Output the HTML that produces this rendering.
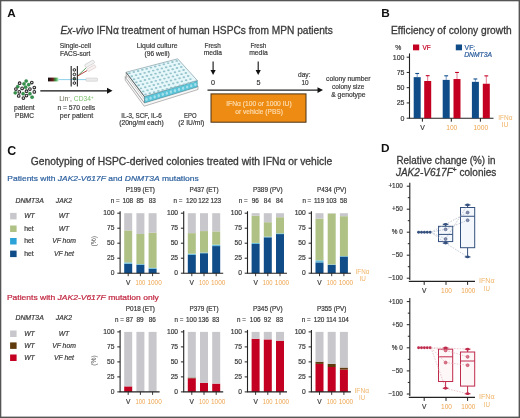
<!DOCTYPE html>
<html><head><meta charset="utf-8"><style>
html,body{margin:0;padding:0;background:#fff;}
svg{display:block;will-change:transform;}
text{font-family:"Liberation Sans", sans-serif;}
</style></head><body>
<svg width="520" height="418" viewBox="0 0 520 418">
<rect x="0" y="0" width="520" height="418" fill="#fff"/>
<text x="7.30" y="16.90" font-size="11.7" fill="#111" font-weight="bold">A</text>
<text x="60.40" y="33.60" font-size="10.8" fill="#3a3a3a" textLength="272.40" lengthAdjust="spacingAndGlyphs" stroke="#3a3a3a" stroke-width="0.3"><tspan font-style="italic">Ex-vivo</tspan> IFN&#945; treatment of human HSPCs from MPN patients</text>
<text x="59.80" y="47.80" font-size="7.2" fill="#3a3a3a" textLength="31.10" lengthAdjust="spacingAndGlyphs" stroke="#3a3a3a" stroke-width="0.2">Single-cell</text>
<text x="60.10" y="55.60" font-size="7.2" fill="#3a3a3a" textLength="30.30" lengthAdjust="spacingAndGlyphs" stroke="#3a3a3a" stroke-width="0.2">FACS-sort</text>
<circle cx="26.2" cy="81" r="1.6" fill="#34964a" stroke="#22703a" stroke-width="0.4"/>
<circle cx="19.6" cy="83.2" r="1.35" fill="#e8e8e8" stroke="#2a2a2a" stroke-width="1.05"/>
<circle cx="24" cy="83.8" r="1.6" fill="#34964a" stroke="#22703a" stroke-width="0.4"/>
<circle cx="28.7" cy="84.7" r="1.6" fill="#34964a" stroke="#22703a" stroke-width="0.4"/>
<circle cx="31.8" cy="82.5" r="1.35" fill="#e8e8e8" stroke="#2a2a2a" stroke-width="1.05"/>
<circle cx="17.8" cy="86.6" r="1.6" fill="#34964a" stroke="#22703a" stroke-width="0.4"/>
<circle cx="22.1" cy="88.4" r="1.35" fill="#e8e8e8" stroke="#2a2a2a" stroke-width="1.05"/>
<circle cx="25.6" cy="87.2" r="1.6" fill="#34964a" stroke="#22703a" stroke-width="0.4"/>
<circle cx="29.9" cy="89.1" r="1.35" fill="#e8e8e8" stroke="#2a2a2a" stroke-width="1.05"/>
<circle cx="34.3" cy="87.5" r="1.35" fill="#e8e8e8" stroke="#2a2a2a" stroke-width="1.05"/>
<circle cx="15.9" cy="89.1" r="1.35" fill="#e8e8e8" stroke="#2a2a2a" stroke-width="1.05"/>
<circle cx="19.3" cy="91.9" r="1.35" fill="#e8e8e8" stroke="#2a2a2a" stroke-width="1.05"/>
<circle cx="26.5" cy="91.2" r="1.35" fill="#e8e8e8" stroke="#2a2a2a" stroke-width="1.05"/>
<circle cx="34.3" cy="91.9" r="1.35" fill="#e8e8e8" stroke="#2a2a2a" stroke-width="1.05"/>
<circle cx="15.3" cy="92.8" r="1.6" fill="#34964a" stroke="#22703a" stroke-width="0.4"/>
<circle cx="23.1" cy="93.7" r="1.6" fill="#34964a" stroke="#22703a" stroke-width="0.4"/>
<circle cx="29.9" cy="93.7" r="1.6" fill="#34964a" stroke="#22703a" stroke-width="0.4"/>
<circle cx="18.7" cy="95.9" r="1.35" fill="#e8e8e8" stroke="#2a2a2a" stroke-width="1.05"/>
<circle cx="26.5" cy="95.6" r="1.35" fill="#e8e8e8" stroke="#2a2a2a" stroke-width="1.05"/>
<circle cx="32.1" cy="97.2" r="1.6" fill="#34964a" stroke="#22703a" stroke-width="0.4"/>
<circle cx="23.4" cy="98.1" r="1.35" fill="#e8e8e8" stroke="#2a2a2a" stroke-width="1.05"/>
<text x="14.10" y="110.40" font-size="7.2" fill="#3a3a3a" textLength="20.60" lengthAdjust="spacingAndGlyphs" stroke="#3a3a3a" stroke-width="0.2">patient</text>
<text x="15.00" y="117.90" font-size="7.2" fill="#3a3a3a" textLength="19.00" lengthAdjust="spacingAndGlyphs" stroke="#3a3a3a" stroke-width="0.2">PBMC</text>
<line x1="40.30" y1="90.80" x2="108.00" y2="90.80" stroke="#111" stroke-width="1.2"/>
<path d="M107 87.8 L112.5 90.8 L107 93.8 Z" fill="#111"/>
<defs><linearGradient id="nz" x1="0" x2="1" y1="0" y2="0"><stop offset="0" stop-color="#111"/><stop offset="0.45" stop-color="#6a1a1a"/><stop offset="0.75" stop-color="#3aa84a"/><stop offset="1" stop-color="#bfe6c0"/></linearGradient></defs>
<rect x="48.00" y="77.60" width="10.50" height="3.80" fill="url(#nz)"/>
<line x1="58.50" y1="79.60" x2="86.00" y2="79.60" stroke="#8fd0ec" stroke-width="1.0"/>
<line x1="71.20" y1="66.00" x2="71.20" y2="86.50" stroke="#333" stroke-width="1.2"/>
<line x1="77.40" y1="66.00" x2="77.40" y2="86.50" stroke="#333" stroke-width="1.2"/>
<circle cx="74.4" cy="69.9" r="1.3" fill="#eee" stroke="#222" stroke-width="1.0"/>
<circle cx="74.4" cy="74.4" r="1.3" fill="#eee" stroke="#222" stroke-width="1.0"/>
<circle cx="74.4" cy="78.7" r="1.3" fill="#4a7a5a" stroke="#222" stroke-width="1.0"/>
<circle cx="74.4" cy="83.1" r="1.3" fill="#eee" stroke="#222" stroke-width="1.0"/>
<line x1="77.60" y1="76.00" x2="86.80" y2="67.20" stroke="#2f8a3a" stroke-width="0.8"/>
<line x1="77.60" y1="76.00" x2="87.00" y2="70.60" stroke="#a01818" stroke-width="0.8"/>
<g transform="translate(89.6,63.8) rotate(-30)"><rect x="-5" y="-1.6" width="10" height="3.2" rx="0.6" fill="#f2f2f2" stroke="#c8c8c8" stroke-width="0.6"/></g>
<g transform="translate(91.4,68.2) rotate(-30)"><rect x="-4.5" y="-1.5" width="9" height="3" rx="0.6" fill="#f6f0f0" stroke="#dcc8c8" stroke-width="0.6"/></g>
<rect x="86" y="78.1" width="11.5" height="3.1" rx="0.6" fill="#ececec" stroke="#c8c8c8" stroke-width="0.6"/>
<text x="59.2" y="101.4" font-size="7.2" fill="#66664f" textLength="12.6" lengthAdjust="spacingAndGlyphs">Lin<tspan font-size="4.5" dy="-2.6">-</tspan><tspan dy="2.6">,</tspan></text>
<text x="73.8" y="101.4" font-size="7.2" fill="#78c068" textLength="19.6" lengthAdjust="spacingAndGlyphs">CD34<tspan font-size="4.5" dy="-2.6">+</tspan></text>
<text x="57.50" y="110.20" font-size="7.2" fill="#3a3a3a" textLength="37.70" lengthAdjust="spacingAndGlyphs" stroke="#3a3a3a" stroke-width="0.2">n = 570 cells</text>
<text x="59.80" y="117.80" font-size="7.2" fill="#3a3a3a" textLength="33.40" lengthAdjust="spacingAndGlyphs" stroke="#3a3a3a" stroke-width="0.2">per patient</text>
<text x="136.80" y="47.80" font-size="7.2" fill="#3a3a3a" textLength="40.70" lengthAdjust="spacingAndGlyphs" stroke="#3a3a3a" stroke-width="0.2">Liquid culture</text>
<text x="144.60" y="55.70" font-size="7.2" fill="#3a3a3a" textLength="25.10" lengthAdjust="spacingAndGlyphs" stroke="#3a3a3a" stroke-width="0.2">(96 well)</text>
<path d="M125.2 76.5 L144.2 102.5 L198 86 L198 89.5 L144.2 106.2 L125.2 80.2 Z" fill="#f6f6f6" stroke="#8a8a8a" stroke-width="0.6"/>
<path d="M126.2 72.2 L144.5 96.5 L144.5 103 L126.2 78.4 Z" fill="#fbfbfb" stroke="#7a7a7a" stroke-width="0.6"/>
<line x1="126.20" y1="75.00" x2="144.50" y2="99.60" stroke="#9a9a9a" stroke-width="0.5"/>
<path d="M144.5 96.5 L197.3 80.5 L197.3 87 L144.5 103 Z" fill="#5ac4d8" stroke="#4a7f8a" stroke-width="0.5"/>
<path d="M126.2 72.2 L177.7 58.8 L197.3 80.5 L144.5 96.5 Z" fill="#e6f7fa" stroke="#6f8f98" stroke-width="0.6"/>
<line x1="126.20" y1="72.60" x2="144.50" y2="96.90" stroke="#555" stroke-width="0.8"/>
<ellipse cx="129.49" cy="73.16" rx="1.3" ry="0.95" fill="#95c3cc"/><ellipse cx="131.78" cy="76.20" rx="1.3" ry="0.95" fill="#95c3cc"/><ellipse cx="134.06" cy="79.24" rx="1.3" ry="0.95" fill="#95c3cc"/><ellipse cx="136.35" cy="82.27" rx="1.3" ry="0.95" fill="#95c3cc"/><ellipse cx="138.64" cy="85.31" rx="1.3" ry="0.95" fill="#95c3cc"/><ellipse cx="140.93" cy="88.35" rx="1.3" ry="0.95" fill="#95c3cc"/><ellipse cx="143.21" cy="91.39" rx="1.3" ry="0.95" fill="#95c3cc"/><ellipse cx="145.50" cy="94.42" rx="1.3" ry="0.95" fill="#95c3cc"/><ellipse cx="133.78" cy="72.04" rx="1.3" ry="0.95" fill="#95c3cc"/><ellipse cx="136.07" cy="75.08" rx="1.3" ry="0.95" fill="#95c3cc"/><ellipse cx="138.36" cy="78.12" rx="1.3" ry="0.95" fill="#95c3cc"/><ellipse cx="140.64" cy="81.16" rx="1.3" ry="0.95" fill="#95c3cc"/><ellipse cx="142.93" cy="84.19" rx="1.3" ry="0.95" fill="#95c3cc"/><ellipse cx="145.22" cy="87.23" rx="1.3" ry="0.95" fill="#95c3cc"/><ellipse cx="147.51" cy="90.27" rx="1.3" ry="0.95" fill="#95c3cc"/><ellipse cx="149.79" cy="93.31" rx="1.3" ry="0.95" fill="#95c3cc"/><ellipse cx="138.07" cy="70.93" rx="1.3" ry="0.95" fill="#95c3cc"/><ellipse cx="140.36" cy="73.96" rx="1.3" ry="0.95" fill="#95c3cc"/><ellipse cx="142.65" cy="77.00" rx="1.3" ry="0.95" fill="#95c3cc"/><ellipse cx="144.94" cy="80.04" rx="1.3" ry="0.95" fill="#95c3cc"/><ellipse cx="147.22" cy="83.08" rx="1.3" ry="0.95" fill="#95c3cc"/><ellipse cx="149.51" cy="86.11" rx="1.3" ry="0.95" fill="#95c3cc"/><ellipse cx="151.80" cy="89.15" rx="1.3" ry="0.95" fill="#95c3cc"/><ellipse cx="154.09" cy="92.19" rx="1.3" ry="0.95" fill="#95c3cc"/><ellipse cx="142.36" cy="69.81" rx="1.3" ry="0.95" fill="#95c3cc"/><ellipse cx="144.65" cy="72.85" rx="1.3" ry="0.95" fill="#95c3cc"/><ellipse cx="146.94" cy="75.89" rx="1.3" ry="0.95" fill="#95c3cc"/><ellipse cx="149.23" cy="78.92" rx="1.3" ry="0.95" fill="#95c3cc"/><ellipse cx="151.51" cy="81.96" rx="1.3" ry="0.95" fill="#95c3cc"/><ellipse cx="153.80" cy="85.00" rx="1.3" ry="0.95" fill="#95c3cc"/><ellipse cx="156.09" cy="88.04" rx="1.3" ry="0.95" fill="#95c3cc"/><ellipse cx="158.38" cy="91.07" rx="1.3" ry="0.95" fill="#95c3cc"/><ellipse cx="146.66" cy="68.69" rx="1.3" ry="0.95" fill="#95c3cc"/><ellipse cx="148.94" cy="71.73" rx="1.3" ry="0.95" fill="#95c3cc"/><ellipse cx="151.23" cy="74.77" rx="1.3" ry="0.95" fill="#95c3cc"/><ellipse cx="153.52" cy="77.81" rx="1.3" ry="0.95" fill="#95c3cc"/><ellipse cx="155.81" cy="80.84" rx="1.3" ry="0.95" fill="#95c3cc"/><ellipse cx="158.09" cy="83.88" rx="1.3" ry="0.95" fill="#95c3cc"/><ellipse cx="160.38" cy="86.92" rx="1.3" ry="0.95" fill="#95c3cc"/><ellipse cx="162.67" cy="89.96" rx="1.3" ry="0.95" fill="#95c3cc"/><ellipse cx="150.95" cy="67.58" rx="1.3" ry="0.95" fill="#95c3cc"/><ellipse cx="153.24" cy="70.61" rx="1.3" ry="0.95" fill="#95c3cc"/><ellipse cx="155.52" cy="73.65" rx="1.3" ry="0.95" fill="#95c3cc"/><ellipse cx="157.81" cy="76.69" rx="1.3" ry="0.95" fill="#95c3cc"/><ellipse cx="160.10" cy="79.73" rx="1.3" ry="0.95" fill="#95c3cc"/><ellipse cx="162.39" cy="82.76" rx="1.3" ry="0.95" fill="#95c3cc"/><ellipse cx="164.67" cy="85.80" rx="1.3" ry="0.95" fill="#95c3cc"/><ellipse cx="166.96" cy="88.84" rx="1.3" ry="0.95" fill="#95c3cc"/><ellipse cx="155.24" cy="66.46" rx="1.3" ry="0.95" fill="#95c3cc"/><ellipse cx="157.53" cy="69.50" rx="1.3" ry="0.95" fill="#95c3cc"/><ellipse cx="159.81" cy="72.54" rx="1.3" ry="0.95" fill="#95c3cc"/><ellipse cx="162.10" cy="75.57" rx="1.3" ry="0.95" fill="#95c3cc"/><ellipse cx="164.39" cy="78.61" rx="1.3" ry="0.95" fill="#95c3cc"/><ellipse cx="166.68" cy="81.65" rx="1.3" ry="0.95" fill="#95c3cc"/><ellipse cx="168.96" cy="84.69" rx="1.3" ry="0.95" fill="#95c3cc"/><ellipse cx="171.25" cy="87.72" rx="1.3" ry="0.95" fill="#95c3cc"/><ellipse cx="159.53" cy="65.34" rx="1.3" ry="0.95" fill="#95c3cc"/><ellipse cx="161.82" cy="68.38" rx="1.3" ry="0.95" fill="#95c3cc"/><ellipse cx="164.11" cy="71.42" rx="1.3" ry="0.95" fill="#95c3cc"/><ellipse cx="166.39" cy="74.46" rx="1.3" ry="0.95" fill="#95c3cc"/><ellipse cx="168.68" cy="77.49" rx="1.3" ry="0.95" fill="#95c3cc"/><ellipse cx="170.97" cy="80.53" rx="1.3" ry="0.95" fill="#95c3cc"/><ellipse cx="173.26" cy="83.57" rx="1.3" ry="0.95" fill="#95c3cc"/><ellipse cx="175.54" cy="86.61" rx="1.3" ry="0.95" fill="#95c3cc"/><ellipse cx="163.82" cy="64.23" rx="1.3" ry="0.95" fill="#95c3cc"/><ellipse cx="166.11" cy="67.26" rx="1.3" ry="0.95" fill="#95c3cc"/><ellipse cx="168.40" cy="70.30" rx="1.3" ry="0.95" fill="#95c3cc"/><ellipse cx="170.69" cy="73.34" rx="1.3" ry="0.95" fill="#95c3cc"/><ellipse cx="172.97" cy="76.38" rx="1.3" ry="0.95" fill="#95c3cc"/><ellipse cx="175.26" cy="79.41" rx="1.3" ry="0.95" fill="#95c3cc"/><ellipse cx="177.55" cy="82.45" rx="1.3" ry="0.95" fill="#95c3cc"/><ellipse cx="179.84" cy="85.49" rx="1.3" ry="0.95" fill="#95c3cc"/><ellipse cx="168.11" cy="63.11" rx="1.3" ry="0.95" fill="#95c3cc"/><ellipse cx="170.40" cy="66.15" rx="1.3" ry="0.95" fill="#95c3cc"/><ellipse cx="172.69" cy="69.19" rx="1.3" ry="0.95" fill="#95c3cc"/><ellipse cx="174.98" cy="72.22" rx="1.3" ry="0.95" fill="#95c3cc"/><ellipse cx="177.26" cy="75.26" rx="1.3" ry="0.95" fill="#95c3cc"/><ellipse cx="179.55" cy="78.30" rx="1.3" ry="0.95" fill="#95c3cc"/><ellipse cx="181.84" cy="81.34" rx="1.3" ry="0.95" fill="#95c3cc"/><ellipse cx="184.13" cy="84.37" rx="1.3" ry="0.95" fill="#95c3cc"/><ellipse cx="172.41" cy="61.99" rx="1.3" ry="0.95" fill="#95c3cc"/><ellipse cx="174.69" cy="65.03" rx="1.3" ry="0.95" fill="#95c3cc"/><ellipse cx="176.98" cy="68.07" rx="1.3" ry="0.95" fill="#95c3cc"/><ellipse cx="179.27" cy="71.11" rx="1.3" ry="0.95" fill="#95c3cc"/><ellipse cx="181.56" cy="74.14" rx="1.3" ry="0.95" fill="#95c3cc"/><ellipse cx="183.84" cy="77.18" rx="1.3" ry="0.95" fill="#95c3cc"/><ellipse cx="186.13" cy="80.22" rx="1.3" ry="0.95" fill="#95c3cc"/><ellipse cx="188.42" cy="83.26" rx="1.3" ry="0.95" fill="#95c3cc"/><ellipse cx="176.70" cy="60.88" rx="1.3" ry="0.95" fill="#95c3cc"/><ellipse cx="178.99" cy="63.91" rx="1.3" ry="0.95" fill="#95c3cc"/><ellipse cx="181.27" cy="66.95" rx="1.3" ry="0.95" fill="#95c3cc"/><ellipse cx="183.56" cy="69.99" rx="1.3" ry="0.95" fill="#95c3cc"/><ellipse cx="185.85" cy="73.03" rx="1.3" ry="0.95" fill="#95c3cc"/><ellipse cx="188.14" cy="76.06" rx="1.3" ry="0.95" fill="#95c3cc"/><ellipse cx="190.42" cy="79.10" rx="1.3" ry="0.95" fill="#95c3cc"/><ellipse cx="192.71" cy="82.14" rx="1.3" ry="0.95" fill="#95c3cc"/>
<ellipse cx="146.53" cy="99.28" rx="1.2" ry="1.6" fill="#a4e0ec"/><ellipse cx="150.59" cy="98.05" rx="1.2" ry="1.6" fill="#a4e0ec"/><ellipse cx="154.65" cy="96.82" rx="1.2" ry="1.6" fill="#a4e0ec"/><ellipse cx="158.72" cy="95.59" rx="1.2" ry="1.6" fill="#a4e0ec"/><ellipse cx="162.78" cy="94.36" rx="1.2" ry="1.6" fill="#a4e0ec"/><ellipse cx="166.84" cy="93.13" rx="1.2" ry="1.6" fill="#a4e0ec"/><ellipse cx="170.90" cy="91.90" rx="1.2" ry="1.6" fill="#a4e0ec"/><ellipse cx="174.96" cy="90.67" rx="1.2" ry="1.6" fill="#a4e0ec"/><ellipse cx="179.02" cy="89.44" rx="1.2" ry="1.6" fill="#a4e0ec"/><ellipse cx="183.08" cy="88.21" rx="1.2" ry="1.6" fill="#a4e0ec"/><ellipse cx="187.15" cy="86.98" rx="1.2" ry="1.6" fill="#a4e0ec"/><ellipse cx="191.21" cy="85.75" rx="1.2" ry="1.6" fill="#a4e0ec"/><ellipse cx="195.27" cy="84.52" rx="1.2" ry="1.6" fill="#a4e0ec"/>
<text x="121.20" y="117.70" font-size="7.2" fill="#3a3a3a" textLength="40.70" lengthAdjust="spacingAndGlyphs" stroke="#3a3a3a" stroke-width="0.2">IL-3, SCF, IL-6</text>
<text x="119.20" y="125.00" font-size="7.2" fill="#3a3a3a" textLength="44.60" lengthAdjust="spacingAndGlyphs" stroke="#3a3a3a" stroke-width="0.2">(20ng/ml each)</text>
<text x="184.00" y="117.70" font-size="7.2" fill="#3a3a3a" textLength="12.50" lengthAdjust="spacingAndGlyphs" stroke="#3a3a3a" stroke-width="0.2">EPO</text>
<text x="178.30" y="125.00" font-size="7.2" fill="#3a3a3a" textLength="25.90" lengthAdjust="spacingAndGlyphs" stroke="#3a3a3a" stroke-width="0.2">(2 IU/ml)</text>
<text x="204.60" y="47.70" font-size="7.2" fill="#3a3a3a" textLength="16.20" lengthAdjust="spacingAndGlyphs" stroke="#3a3a3a" stroke-width="0.2">Fresh</text>
<text x="203.80" y="55.40" font-size="7.2" fill="#3a3a3a" textLength="18.20" lengthAdjust="spacingAndGlyphs" stroke="#3a3a3a" stroke-width="0.2">media</text>
<text x="250.50" y="47.70" font-size="7.2" fill="#3a3a3a" textLength="15.70" lengthAdjust="spacingAndGlyphs" stroke="#3a3a3a" stroke-width="0.2">Fresh</text>
<text x="249.20" y="55.40" font-size="7.2" fill="#3a3a3a" textLength="18.50" lengthAdjust="spacingAndGlyphs" stroke="#3a3a3a" stroke-width="0.2">media</text>
<line x1="213.10" y1="61.50" x2="213.10" y2="71.50" stroke="#111" stroke-width="1.1"/>
<path d="M210.5 70 L213.1 75 L215.7 70 Z" fill="#111"/>
<line x1="258.20" y1="61.50" x2="258.20" y2="71.50" stroke="#111" stroke-width="1.1"/>
<path d="M255.6 70 L258.2 75 L260.8 70 Z" fill="#111"/>
<text x="213.10" y="84.60" font-size="7.2" fill="#3a3a3a" text-anchor="middle" stroke="#3a3a3a" stroke-width="0.2">0</text>
<text x="258.50" y="84.60" font-size="7.2" fill="#3a3a3a" text-anchor="middle" stroke="#3a3a3a" stroke-width="0.2">5</text>
<text x="298.00" y="76.70" font-size="7.2" fill="#3a3a3a" textLength="12.50" lengthAdjust="spacingAndGlyphs" stroke="#3a3a3a" stroke-width="0.2">day:</text>
<text x="301.40" y="85.00" font-size="7.2" fill="#3a3a3a" textLength="7.10" lengthAdjust="spacingAndGlyphs" stroke="#3a3a3a" stroke-width="0.2">10</text>
<line x1="207.50" y1="90.10" x2="318.50" y2="90.10" stroke="#222" stroke-width="1.3"/>
<path d="M317.5 87.3 L323 90.1 L317.5 92.9 Z" fill="#111"/>
<rect x="211.00" y="93.90" width="95.00" height="28.30" fill="#ee8b12" stroke="#4a3418" stroke-width="1.0"/>
<text x="226.20" y="106.00" font-size="7.2" fill="#fcdcae" textLength="65.50" lengthAdjust="spacingAndGlyphs" stroke="#fcdcae" stroke-width="0.2">IFN&#945; (100 or 1000 IU)</text>
<text x="235.30" y="113.80" font-size="7.2" fill="#fcdcae" textLength="47.60" lengthAdjust="spacingAndGlyphs" stroke="#fcdcae" stroke-width="0.2">or vehicle (PBS)</text>
<text x="326.00" y="81.40" font-size="7.0" fill="#3a3a3a" textLength="44.50" lengthAdjust="spacingAndGlyphs" stroke="#3a3a3a" stroke-width="0.2">colony number</text>
<text x="332.10" y="88.50" font-size="7.0" fill="#3a3a3a" textLength="32.30" lengthAdjust="spacingAndGlyphs" stroke="#3a3a3a" stroke-width="0.2">colony size</text>
<text x="331.20" y="96.50" font-size="7.0" fill="#3a3a3a" textLength="34.40" lengthAdjust="spacingAndGlyphs" stroke="#3a3a3a" stroke-width="0.2">&amp; genotype</text>
<text x="381.20" y="16.70" font-size="11.8" fill="#111" font-weight="bold">B</text>
<text x="391.00" y="33.90" font-size="10.2" fill="#3a3a3a" textLength="120.70" lengthAdjust="spacingAndGlyphs" stroke="#3a3a3a" stroke-width="0.3">Efficiency of colony growth</text>
<text x="395.20" y="49.80" font-size="6.8" fill="#3a3a3a" stroke="#3a3a3a" stroke-width="0.2">%</text>
<rect x="413.00" y="44.50" width="6.20" height="5.80" fill="#c40022"/>
<text x="422.60" y="50.20" font-size="6.8" fill="#c40022" textLength="8.20" lengthAdjust="spacingAndGlyphs" stroke="#c40022" stroke-width="0.2">VF</text>
<rect x="455.80" y="44.50" width="6.20" height="5.80" fill="#0f4c88"/>
<text x="464.60" y="50.20" font-size="6.8" fill="#2a5d9c" stroke="#2a5d9c" stroke-width="0.2">VF;</text>
<text x="464.20" y="56.80" font-size="6.8" fill="#2a5d9c" font-style="italic" textLength="27.80" lengthAdjust="spacingAndGlyphs" stroke="#2a5d9c" stroke-width="0.2">DNMT3A</text>
<line x1="409.50" y1="53.40" x2="409.50" y2="118.20" stroke="#222" stroke-width="1.1"/>
<line x1="406.70" y1="118.20" x2="409.50" y2="118.20" stroke="#222" stroke-width="1.0"/>
<text x="404.50" y="120.70" font-size="7.0" fill="#3a3a3a" text-anchor="end" stroke="#3a3a3a" stroke-width="0.2">0</text>
<line x1="406.70" y1="102.95" x2="409.50" y2="102.95" stroke="#222" stroke-width="1.0"/>
<text x="404.50" y="105.45" font-size="7.0" fill="#3a3a3a" text-anchor="end" stroke="#3a3a3a" stroke-width="0.2">25</text>
<line x1="406.70" y1="87.70" x2="409.50" y2="87.70" stroke="#222" stroke-width="1.0"/>
<text x="404.50" y="90.20" font-size="7.0" fill="#3a3a3a" text-anchor="end" stroke="#3a3a3a" stroke-width="0.2">50</text>
<line x1="406.70" y1="72.45" x2="409.50" y2="72.45" stroke="#222" stroke-width="1.0"/>
<text x="404.50" y="74.95" font-size="7.0" fill="#3a3a3a" text-anchor="end" stroke="#3a3a3a" stroke-width="0.2">75</text>
<line x1="406.70" y1="57.20" x2="409.50" y2="57.20" stroke="#222" stroke-width="1.0"/>
<text x="404.50" y="59.70" font-size="7.0" fill="#3a3a3a" text-anchor="end" stroke="#3a3a3a" stroke-width="0.2">100</text>
<line x1="409.00" y1="118.20" x2="493.50" y2="118.20" stroke="#222" stroke-width="1.1"/>
<line x1="417.20" y1="77.15" x2="417.20" y2="73.49" stroke="#7c9cc8" stroke-width="1.0"/>
<line x1="415.30" y1="73.49" x2="419.10" y2="73.49" stroke="#0f4c88" stroke-width="1.1"/>
<rect x="413.70" y="77.15" width="7.00" height="41.05" fill="#0f4c88"/>
<line x1="427.70" y1="80.99" x2="427.70" y2="75.68" stroke="#e27a90" stroke-width="1.0"/>
<line x1="425.80" y1="75.68" x2="429.60" y2="75.68" stroke="#c40022" stroke-width="1.1"/>
<rect x="424.20" y="80.99" width="7.00" height="37.21" fill="#c40022"/>
<line x1="446.20" y1="79.89" x2="446.20" y2="75.81" stroke="#7c9cc8" stroke-width="1.0"/>
<line x1="444.30" y1="75.81" x2="448.10" y2="75.81" stroke="#0f4c88" stroke-width="1.1"/>
<rect x="442.70" y="79.89" width="7.00" height="38.31" fill="#0f4c88"/>
<line x1="457.00" y1="79.04" x2="457.00" y2="72.45" stroke="#e27a90" stroke-width="1.0"/>
<line x1="455.10" y1="72.45" x2="458.90" y2="72.45" stroke="#c40022" stroke-width="1.1"/>
<rect x="453.50" y="79.04" width="7.00" height="39.16" fill="#c40022"/>
<line x1="475.40" y1="81.84" x2="475.40" y2="78.98" stroke="#7c9cc8" stroke-width="1.0"/>
<line x1="473.50" y1="78.98" x2="477.30" y2="78.98" stroke="#0f4c88" stroke-width="1.1"/>
<rect x="471.90" y="81.84" width="7.00" height="36.36" fill="#0f4c88"/>
<line x1="486.30" y1="83.74" x2="486.30" y2="75.87" stroke="#e27a90" stroke-width="1.0"/>
<line x1="484.40" y1="75.87" x2="488.20" y2="75.87" stroke="#c40022" stroke-width="1.1"/>
<rect x="482.80" y="83.74" width="7.00" height="34.46" fill="#c40022"/>
<line x1="422.40" y1="118.20" x2="422.40" y2="121.70" stroke="#222" stroke-width="1.0"/>
<line x1="451.30" y1="118.20" x2="451.30" y2="121.70" stroke="#222" stroke-width="1.0"/>
<line x1="480.40" y1="118.20" x2="480.40" y2="121.70" stroke="#222" stroke-width="1.0"/>
<text x="422.50" y="129.80" font-size="6.8" fill="#3a3a3a" text-anchor="middle" stroke="#3a3a3a" stroke-width="0.2">V</text>
<text x="446.20" y="129.80" font-size="6.8" fill="#eea44e" textLength="11.10" lengthAdjust="spacingAndGlyphs">100</text>
<text x="473.40" y="129.80" font-size="6.8" fill="#eea44e" textLength="14.80" lengthAdjust="spacingAndGlyphs">1000</text>
<text x="498.20" y="119.50" font-size="6.8" fill="#f1b468" textLength="14.30" lengthAdjust="spacingAndGlyphs">IFN&#945;</text>
<text x="501.60" y="127.40" font-size="6.8" fill="#f1b468" textLength="6.90" lengthAdjust="spacingAndGlyphs">IU</text>
<text x="7.30" y="155.40" font-size="12.4" fill="#111" font-weight="bold">C</text>
<text x="30.80" y="165.00" font-size="10.2" fill="#3a3a3a" textLength="301.40" lengthAdjust="spacingAndGlyphs" stroke="#3a3a3a" stroke-width="0.3">Genotyping of HSPC-derived colonies treated with IFN&#945; or vehicle</text>
<text x="7.3" y="180.5" font-size="7.9" fill="#2f62a0" stroke="#2f62a0" stroke-width="0.2" textLength="191.5" lengthAdjust="spacingAndGlyphs">Patients with <tspan font-style="italic">JAK2-V617F</tspan> and <tspan font-style="italic">DNMT3A</tspan> mutations</text>
<text x="6.9" y="300.1" font-size="7.9" fill="#c0243e" stroke="#c0243e" stroke-width="0.2" textLength="151.9" lengthAdjust="spacingAndGlyphs">Patients with <tspan font-style="italic">JAK2-V617F</tspan> mutation only</text>
<text x="15.40" y="202.70" font-size="6.8" fill="#3a3a3a" font-style="italic" textLength="28.40" lengthAdjust="spacingAndGlyphs" stroke="#3a3a3a" stroke-width="0.2">DNMT3A</text>
<text x="55.80" y="202.70" font-size="6.8" fill="#3a3a3a" font-style="italic" textLength="16.30" lengthAdjust="spacingAndGlyphs" stroke="#3a3a3a" stroke-width="0.2">JAK2</text>
<rect x="10.10" y="212.90" width="6.50" height="6.50" fill="#c8c7cb"/>
<text x="24.20" y="218.30" font-size="6.8" fill="#3a3a3a" font-style="italic" stroke="#3a3a3a" stroke-width="0.2">WT</text>
<text x="64.00" y="218.30" font-size="6.8" fill="#3a3a3a" text-anchor="middle" font-style="italic" stroke="#3a3a3a" stroke-width="0.2">WT</text>
<rect x="10.10" y="225.50" width="6.50" height="6.50" fill="#afc185"/>
<text x="24.20" y="230.90" font-size="6.8" fill="#3a3a3a" stroke="#3a3a3a" stroke-width="0.2">het</text>
<text x="64.00" y="230.90" font-size="6.8" fill="#3a3a3a" text-anchor="middle" font-style="italic" stroke="#3a3a3a" stroke-width="0.2">WT</text>
<rect x="10.10" y="238.00" width="6.50" height="6.50" fill="#2ba2d8"/>
<text x="24.20" y="243.40" font-size="6.8" fill="#3a3a3a" stroke="#3a3a3a" stroke-width="0.2">het</text>
<text x="64.00" y="243.40" font-size="6.8" fill="#3a3a3a" text-anchor="middle" font-style="italic" stroke="#3a3a3a" stroke-width="0.2">VF hom</text>
<rect x="10.10" y="250.60" width="6.50" height="6.50" fill="#0f4c88"/>
<text x="24.20" y="256.00" font-size="6.8" fill="#3a3a3a" stroke="#3a3a3a" stroke-width="0.2">het</text>
<text x="64.00" y="256.00" font-size="6.8" fill="#3a3a3a" text-anchor="middle" font-style="italic" stroke="#3a3a3a" stroke-width="0.2">VF het</text>
<text x="15.40" y="319.60" font-size="6.8" fill="#3a3a3a" font-style="italic" textLength="28.40" lengthAdjust="spacingAndGlyphs" stroke="#3a3a3a" stroke-width="0.2">DNMT3A</text>
<text x="55.80" y="319.60" font-size="6.8" fill="#3a3a3a" font-style="italic" textLength="16.30" lengthAdjust="spacingAndGlyphs" stroke="#3a3a3a" stroke-width="0.2">JAK2</text>
<rect x="10.10" y="330.50" width="6.50" height="6.50" fill="#c8c7cb"/>
<text x="24.20" y="335.90" font-size="6.8" fill="#3a3a3a" font-style="italic" stroke="#3a3a3a" stroke-width="0.2">WT</text>
<text x="64.00" y="335.90" font-size="6.8" fill="#3a3a3a" text-anchor="middle" font-style="italic" stroke="#3a3a3a" stroke-width="0.2">WT</text>
<rect x="10.10" y="342.40" width="6.50" height="6.50" fill="#5e3a0c"/>
<text x="24.20" y="347.80" font-size="6.8" fill="#3a3a3a" font-style="italic" stroke="#3a3a3a" stroke-width="0.2">WT</text>
<text x="64.00" y="347.80" font-size="6.8" fill="#3a3a3a" text-anchor="middle" font-style="italic" stroke="#3a3a3a" stroke-width="0.2">VF hom</text>
<rect x="10.10" y="354.50" width="6.50" height="6.50" fill="#c40022"/>
<text x="24.20" y="359.90" font-size="6.8" fill="#3a3a3a" font-style="italic" stroke="#3a3a3a" stroke-width="0.2">WT</text>
<text x="64.00" y="359.90" font-size="6.8" fill="#3a3a3a" text-anchor="middle" font-style="italic" stroke="#3a3a3a" stroke-width="0.2">VF het</text>
<text x="-5.3" y="0" font-size="7.8" fill="#3a3a3a" textLength="10.6" lengthAdjust="spacingAndGlyphs" transform="translate(96.2,241.3) rotate(-90)">(%)</text>
<text x="-5.3" y="0" font-size="7.8" fill="#3a3a3a" textLength="10.6" lengthAdjust="spacingAndGlyphs" transform="translate(96.2,360.5) rotate(-90)">(%)</text>
<rect x="124.20" y="263.78" width="8.00" height="9.42" fill="#0f4c88"/>
<rect x="124.20" y="262.40" width="8.00" height="1.38" fill="#66bcdc"/>
<rect x="124.20" y="230.42" width="8.00" height="31.98" fill="#afc185"/>
<rect x="124.20" y="213.20" width="8.00" height="17.22" fill="#c8c7cb"/>
<rect x="136.40" y="264.80" width="8.00" height="8.40" fill="#0f4c88"/>
<rect x="136.40" y="264.08" width="8.00" height="0.72" fill="#66bcdc"/>
<rect x="136.40" y="234.02" width="8.00" height="30.06" fill="#afc185"/>
<rect x="136.40" y="213.20" width="8.00" height="20.82" fill="#c8c7cb"/>
<rect x="148.60" y="268.88" width="8.00" height="4.32" fill="#0f4c88"/>
<rect x="148.60" y="267.92" width="8.00" height="0.96" fill="#66bcdc"/>
<rect x="148.60" y="232.70" width="8.00" height="35.22" fill="#afc185"/>
<rect x="148.60" y="213.20" width="8.00" height="19.50" fill="#c8c7cb"/>
<line x1="120.10" y1="211.20" x2="120.10" y2="273.20" stroke="#222" stroke-width="1.1"/>
<line x1="117.30" y1="273.20" x2="120.10" y2="273.20" stroke="#222" stroke-width="1.0"/>
<text x="114.50" y="275.20" font-size="6.7" fill="#3a3a3a" text-anchor="end" stroke="#3a3a3a" stroke-width="0.2">0</text>
<line x1="117.30" y1="258.20" x2="120.10" y2="258.20" stroke="#222" stroke-width="1.0"/>
<text x="114.50" y="260.20" font-size="6.7" fill="#3a3a3a" text-anchor="end" stroke="#3a3a3a" stroke-width="0.2">25</text>
<line x1="117.30" y1="243.20" x2="120.10" y2="243.20" stroke="#222" stroke-width="1.0"/>
<text x="114.50" y="245.20" font-size="6.7" fill="#3a3a3a" text-anchor="end" stroke="#3a3a3a" stroke-width="0.2">50</text>
<line x1="117.30" y1="228.20" x2="120.10" y2="228.20" stroke="#222" stroke-width="1.0"/>
<text x="114.50" y="230.20" font-size="6.7" fill="#3a3a3a" text-anchor="end" stroke="#3a3a3a" stroke-width="0.2">75</text>
<line x1="117.30" y1="213.20" x2="120.10" y2="213.20" stroke="#222" stroke-width="1.0"/>
<text x="114.50" y="215.20" font-size="6.7" fill="#3a3a3a" text-anchor="end" stroke="#3a3a3a" stroke-width="0.2">100</text>
<line x1="119.60" y1="273.20" x2="159.60" y2="273.20" stroke="#222" stroke-width="1.1"/>
<line x1="128.20" y1="273.20" x2="128.20" y2="276.20" stroke="#222" stroke-width="0.9"/>
<line x1="140.40" y1="273.20" x2="140.40" y2="276.20" stroke="#222" stroke-width="0.9"/>
<line x1="152.60" y1="273.20" x2="152.60" y2="276.20" stroke="#222" stroke-width="0.9"/>
<text x="128.20" y="285.00" font-size="6.6" fill="#3a3a3a" text-anchor="middle" stroke="#3a3a3a" stroke-width="0.2">V</text>
<text x="135.40" y="285.00" font-size="6.6" fill="#eea44e" textLength="9.80" lengthAdjust="spacingAndGlyphs">100</text>
<text x="147.40" y="285.00" font-size="6.6" fill="#eea44e" textLength="14.40" lengthAdjust="spacingAndGlyphs">1000</text>
<text x="140.40" y="192.40" font-size="6.4" fill="#3a3a3a" text-anchor="middle" stroke="#3a3a3a" stroke-width="0.2">P199 (ET)</text>
<text x="127.80" y="202.70" font-size="6.4" fill="#3a3a3a" text-anchor="middle" stroke="#3a3a3a" stroke-width="0.2">108</text>
<text x="140.00" y="202.70" font-size="6.4" fill="#3a3a3a" text-anchor="middle" stroke="#3a3a3a" stroke-width="0.2">85</text>
<text x="152.20" y="202.70" font-size="6.4" fill="#3a3a3a" text-anchor="middle" stroke="#3a3a3a" stroke-width="0.2">83</text>
<text x="110.80" y="202.70" font-size="6.4" fill="#3a3a3a" textLength="8.80" lengthAdjust="spacingAndGlyphs" stroke="#3a3a3a" stroke-width="0.2">n =</text>
<rect x="187.80" y="254.90" width="8.00" height="18.30" fill="#0f4c88"/>
<rect x="187.80" y="253.64" width="8.00" height="1.26" fill="#66bcdc"/>
<rect x="187.80" y="233.12" width="8.00" height="20.52" fill="#afc185"/>
<rect x="187.80" y="213.20" width="8.00" height="19.92" fill="#c8c7cb"/>
<rect x="200.00" y="253.22" width="8.00" height="19.98" fill="#0f4c88"/>
<rect x="200.00" y="252.56" width="8.00" height="0.66" fill="#66bcdc"/>
<rect x="200.00" y="231.08" width="8.00" height="21.48" fill="#afc185"/>
<rect x="200.00" y="213.20" width="8.00" height="17.88" fill="#c8c7cb"/>
<rect x="212.20" y="246.08" width="8.00" height="27.12" fill="#0f4c88"/>
<rect x="212.20" y="244.64" width="8.00" height="1.44" fill="#66bcdc"/>
<rect x="212.20" y="231.38" width="8.00" height="13.26" fill="#afc185"/>
<rect x="212.20" y="213.20" width="8.00" height="18.18" fill="#c8c7cb"/>
<line x1="183.70" y1="211.20" x2="183.70" y2="273.20" stroke="#222" stroke-width="1.1"/>
<line x1="180.90" y1="273.20" x2="183.70" y2="273.20" stroke="#222" stroke-width="1.0"/>
<text x="178.10" y="275.20" font-size="6.7" fill="#3a3a3a" text-anchor="end" stroke="#3a3a3a" stroke-width="0.2">0</text>
<line x1="180.90" y1="258.20" x2="183.70" y2="258.20" stroke="#222" stroke-width="1.0"/>
<text x="178.10" y="260.20" font-size="6.7" fill="#3a3a3a" text-anchor="end" stroke="#3a3a3a" stroke-width="0.2">25</text>
<line x1="180.90" y1="243.20" x2="183.70" y2="243.20" stroke="#222" stroke-width="1.0"/>
<text x="178.10" y="245.20" font-size="6.7" fill="#3a3a3a" text-anchor="end" stroke="#3a3a3a" stroke-width="0.2">50</text>
<line x1="180.90" y1="228.20" x2="183.70" y2="228.20" stroke="#222" stroke-width="1.0"/>
<text x="178.10" y="230.20" font-size="6.7" fill="#3a3a3a" text-anchor="end" stroke="#3a3a3a" stroke-width="0.2">75</text>
<line x1="180.90" y1="213.20" x2="183.70" y2="213.20" stroke="#222" stroke-width="1.0"/>
<text x="178.10" y="215.20" font-size="6.7" fill="#3a3a3a" text-anchor="end" stroke="#3a3a3a" stroke-width="0.2">100</text>
<line x1="183.20" y1="273.20" x2="223.20" y2="273.20" stroke="#222" stroke-width="1.1"/>
<line x1="191.80" y1="273.20" x2="191.80" y2="276.20" stroke="#222" stroke-width="0.9"/>
<line x1="204.00" y1="273.20" x2="204.00" y2="276.20" stroke="#222" stroke-width="0.9"/>
<line x1="216.20" y1="273.20" x2="216.20" y2="276.20" stroke="#222" stroke-width="0.9"/>
<text x="191.80" y="285.00" font-size="6.6" fill="#3a3a3a" text-anchor="middle" stroke="#3a3a3a" stroke-width="0.2">V</text>
<text x="199.00" y="285.00" font-size="6.6" fill="#eea44e" textLength="9.80" lengthAdjust="spacingAndGlyphs">100</text>
<text x="211.00" y="285.00" font-size="6.6" fill="#eea44e" textLength="14.40" lengthAdjust="spacingAndGlyphs">1000</text>
<text x="204.00" y="192.40" font-size="6.4" fill="#3a3a3a" text-anchor="middle" stroke="#3a3a3a" stroke-width="0.2">P437 (ET)</text>
<text x="191.40" y="202.70" font-size="6.4" fill="#3a3a3a" text-anchor="middle" stroke="#3a3a3a" stroke-width="0.2">120</text>
<text x="203.60" y="202.70" font-size="6.4" fill="#3a3a3a" text-anchor="middle" stroke="#3a3a3a" stroke-width="0.2">122</text>
<text x="215.80" y="202.70" font-size="6.4" fill="#3a3a3a" text-anchor="middle" stroke="#3a3a3a" stroke-width="0.2">123</text>
<text x="173.60" y="202.70" font-size="6.4" fill="#3a3a3a" textLength="8.80" lengthAdjust="spacingAndGlyphs" stroke="#3a3a3a" stroke-width="0.2">n =</text>
<rect x="251.60" y="243.98" width="8.00" height="29.22" fill="#0f4c88"/>
<rect x="251.60" y="242.90" width="8.00" height="1.08" fill="#66bcdc"/>
<rect x="251.60" y="215.60" width="8.00" height="27.30" fill="#afc185"/>
<rect x="251.60" y="213.20" width="8.00" height="2.40" fill="#c8c7cb"/>
<rect x="263.80" y="237.32" width="8.00" height="35.88" fill="#0f4c88"/>
<rect x="263.80" y="236.60" width="8.00" height="0.72" fill="#66bcdc"/>
<rect x="263.80" y="222.20" width="8.00" height="14.40" fill="#afc185"/>
<rect x="263.80" y="213.20" width="8.00" height="9.00" fill="#c8c7cb"/>
<rect x="276.00" y="234.08" width="8.00" height="39.12" fill="#0f4c88"/>
<rect x="276.00" y="233.36" width="8.00" height="0.72" fill="#66bcdc"/>
<rect x="276.00" y="217.22" width="8.00" height="16.14" fill="#afc185"/>
<rect x="276.00" y="213.20" width="8.00" height="4.02" fill="#c8c7cb"/>
<line x1="247.50" y1="211.20" x2="247.50" y2="273.20" stroke="#222" stroke-width="1.1"/>
<line x1="244.70" y1="273.20" x2="247.50" y2="273.20" stroke="#222" stroke-width="1.0"/>
<text x="241.90" y="275.20" font-size="6.7" fill="#3a3a3a" text-anchor="end" stroke="#3a3a3a" stroke-width="0.2">0</text>
<line x1="244.70" y1="258.20" x2="247.50" y2="258.20" stroke="#222" stroke-width="1.0"/>
<text x="241.90" y="260.20" font-size="6.7" fill="#3a3a3a" text-anchor="end" stroke="#3a3a3a" stroke-width="0.2">25</text>
<line x1="244.70" y1="243.20" x2="247.50" y2="243.20" stroke="#222" stroke-width="1.0"/>
<text x="241.90" y="245.20" font-size="6.7" fill="#3a3a3a" text-anchor="end" stroke="#3a3a3a" stroke-width="0.2">50</text>
<line x1="244.70" y1="228.20" x2="247.50" y2="228.20" stroke="#222" stroke-width="1.0"/>
<text x="241.90" y="230.20" font-size="6.7" fill="#3a3a3a" text-anchor="end" stroke="#3a3a3a" stroke-width="0.2">75</text>
<line x1="244.70" y1="213.20" x2="247.50" y2="213.20" stroke="#222" stroke-width="1.0"/>
<text x="241.90" y="215.20" font-size="6.7" fill="#3a3a3a" text-anchor="end" stroke="#3a3a3a" stroke-width="0.2">100</text>
<line x1="247.00" y1="273.20" x2="287.00" y2="273.20" stroke="#222" stroke-width="1.1"/>
<line x1="255.60" y1="273.20" x2="255.60" y2="276.20" stroke="#222" stroke-width="0.9"/>
<line x1="267.80" y1="273.20" x2="267.80" y2="276.20" stroke="#222" stroke-width="0.9"/>
<line x1="280.00" y1="273.20" x2="280.00" y2="276.20" stroke="#222" stroke-width="0.9"/>
<text x="255.60" y="285.00" font-size="6.6" fill="#3a3a3a" text-anchor="middle" stroke="#3a3a3a" stroke-width="0.2">V</text>
<text x="262.80" y="285.00" font-size="6.6" fill="#eea44e" textLength="9.80" lengthAdjust="spacingAndGlyphs">100</text>
<text x="274.80" y="285.00" font-size="6.6" fill="#eea44e" textLength="14.40" lengthAdjust="spacingAndGlyphs">1000</text>
<text x="267.80" y="192.40" font-size="6.4" fill="#3a3a3a" text-anchor="middle" stroke="#3a3a3a" stroke-width="0.2">P389 (PV)</text>
<text x="255.20" y="202.70" font-size="6.4" fill="#3a3a3a" text-anchor="middle" stroke="#3a3a3a" stroke-width="0.2">96</text>
<text x="267.40" y="202.70" font-size="6.4" fill="#3a3a3a" text-anchor="middle" stroke="#3a3a3a" stroke-width="0.2">84</text>
<text x="279.60" y="202.70" font-size="6.4" fill="#3a3a3a" text-anchor="middle" stroke="#3a3a3a" stroke-width="0.2">84</text>
<text x="238.80" y="202.70" font-size="6.4" fill="#3a3a3a" textLength="8.80" lengthAdjust="spacingAndGlyphs" stroke="#3a3a3a" stroke-width="0.2">n =</text>
<rect x="315.50" y="262.40" width="8.00" height="10.80" fill="#0f4c88"/>
<rect x="315.50" y="260.30" width="8.00" height="2.10" fill="#66bcdc"/>
<rect x="315.50" y="218.60" width="8.00" height="41.70" fill="#afc185"/>
<rect x="315.50" y="213.20" width="8.00" height="5.40" fill="#c8c7cb"/>
<rect x="327.70" y="264.92" width="8.00" height="8.28" fill="#0f4c88"/>
<rect x="327.70" y="264.44" width="8.00" height="0.48" fill="#66bcdc"/>
<rect x="327.70" y="213.50" width="8.00" height="50.94" fill="#afc185"/>
<rect x="327.70" y="213.20" width="8.00" height="0.30" fill="#c8c7cb"/>
<rect x="339.90" y="256.52" width="8.00" height="16.68" fill="#0f4c88"/>
<rect x="339.90" y="256.04" width="8.00" height="0.48" fill="#66bcdc"/>
<rect x="339.90" y="216.20" width="8.00" height="39.84" fill="#afc185"/>
<rect x="339.90" y="213.20" width="8.00" height="3.00" fill="#c8c7cb"/>
<line x1="311.40" y1="211.20" x2="311.40" y2="273.20" stroke="#222" stroke-width="1.1"/>
<line x1="308.60" y1="273.20" x2="311.40" y2="273.20" stroke="#222" stroke-width="1.0"/>
<text x="305.80" y="275.20" font-size="6.7" fill="#3a3a3a" text-anchor="end" stroke="#3a3a3a" stroke-width="0.2">0</text>
<line x1="308.60" y1="258.20" x2="311.40" y2="258.20" stroke="#222" stroke-width="1.0"/>
<text x="305.80" y="260.20" font-size="6.7" fill="#3a3a3a" text-anchor="end" stroke="#3a3a3a" stroke-width="0.2">25</text>
<line x1="308.60" y1="243.20" x2="311.40" y2="243.20" stroke="#222" stroke-width="1.0"/>
<text x="305.80" y="245.20" font-size="6.7" fill="#3a3a3a" text-anchor="end" stroke="#3a3a3a" stroke-width="0.2">50</text>
<line x1="308.60" y1="228.20" x2="311.40" y2="228.20" stroke="#222" stroke-width="1.0"/>
<text x="305.80" y="230.20" font-size="6.7" fill="#3a3a3a" text-anchor="end" stroke="#3a3a3a" stroke-width="0.2">75</text>
<line x1="308.60" y1="213.20" x2="311.40" y2="213.20" stroke="#222" stroke-width="1.0"/>
<text x="305.80" y="215.20" font-size="6.7" fill="#3a3a3a" text-anchor="end" stroke="#3a3a3a" stroke-width="0.2">100</text>
<line x1="310.90" y1="273.20" x2="350.90" y2="273.20" stroke="#222" stroke-width="1.1"/>
<line x1="319.50" y1="273.20" x2="319.50" y2="276.20" stroke="#222" stroke-width="0.9"/>
<line x1="331.70" y1="273.20" x2="331.70" y2="276.20" stroke="#222" stroke-width="0.9"/>
<line x1="343.90" y1="273.20" x2="343.90" y2="276.20" stroke="#222" stroke-width="0.9"/>
<text x="319.50" y="285.00" font-size="6.6" fill="#3a3a3a" text-anchor="middle" stroke="#3a3a3a" stroke-width="0.2">V</text>
<text x="326.70" y="285.00" font-size="6.6" fill="#eea44e" textLength="9.80" lengthAdjust="spacingAndGlyphs">100</text>
<text x="338.70" y="285.00" font-size="6.6" fill="#eea44e" textLength="14.40" lengthAdjust="spacingAndGlyphs">1000</text>
<text x="331.70" y="192.40" font-size="6.4" fill="#3a3a3a" text-anchor="middle" stroke="#3a3a3a" stroke-width="0.2">P434 (PV)</text>
<text x="319.10" y="202.70" font-size="6.4" fill="#3a3a3a" text-anchor="middle" stroke="#3a3a3a" stroke-width="0.2">119</text>
<text x="331.30" y="202.70" font-size="6.4" fill="#3a3a3a" text-anchor="middle" stroke="#3a3a3a" stroke-width="0.2">103</text>
<text x="343.50" y="202.70" font-size="6.4" fill="#3a3a3a" text-anchor="middle" stroke="#3a3a3a" stroke-width="0.2">58</text>
<text x="302.40" y="202.70" font-size="6.4" fill="#3a3a3a" textLength="8.80" lengthAdjust="spacingAndGlyphs" stroke="#3a3a3a" stroke-width="0.2">n =</text>
<text x="355.60" y="273.80" font-size="6.6" fill="#f1b468" textLength="13.80" lengthAdjust="spacingAndGlyphs">IFN&#945;</text>
<text x="359.60" y="281.40" font-size="6.6" fill="#f1b468" textLength="6.40" lengthAdjust="spacingAndGlyphs">IU</text>
<rect x="124.20" y="386.38" width="8.00" height="5.52" fill="#c40022"/>
<rect x="124.20" y="386.38" width="8.00" height="0.00" fill="#5e3a0c"/>
<rect x="124.20" y="331.90" width="8.00" height="54.48" fill="#c8c7cb"/>
<rect x="136.40" y="391.90" width="8.00" height="0.00" fill="#c40022"/>
<rect x="136.40" y="391.90" width="8.00" height="0.00" fill="#5e3a0c"/>
<rect x="136.40" y="331.90" width="8.00" height="60.00" fill="#c8c7cb"/>
<rect x="148.60" y="391.90" width="8.00" height="0.00" fill="#c40022"/>
<rect x="148.60" y="391.90" width="8.00" height="0.00" fill="#5e3a0c"/>
<rect x="148.60" y="331.90" width="8.00" height="60.00" fill="#c8c7cb"/>
<line x1="120.10" y1="329.90" x2="120.10" y2="391.90" stroke="#222" stroke-width="1.1"/>
<line x1="117.30" y1="391.90" x2="120.10" y2="391.90" stroke="#222" stroke-width="1.0"/>
<text x="114.50" y="393.90" font-size="6.7" fill="#3a3a3a" text-anchor="end" stroke="#3a3a3a" stroke-width="0.2">0</text>
<line x1="117.30" y1="376.90" x2="120.10" y2="376.90" stroke="#222" stroke-width="1.0"/>
<text x="114.50" y="378.90" font-size="6.7" fill="#3a3a3a" text-anchor="end" stroke="#3a3a3a" stroke-width="0.2">25</text>
<line x1="117.30" y1="361.90" x2="120.10" y2="361.90" stroke="#222" stroke-width="1.0"/>
<text x="114.50" y="363.90" font-size="6.7" fill="#3a3a3a" text-anchor="end" stroke="#3a3a3a" stroke-width="0.2">50</text>
<line x1="117.30" y1="346.90" x2="120.10" y2="346.90" stroke="#222" stroke-width="1.0"/>
<text x="114.50" y="348.90" font-size="6.7" fill="#3a3a3a" text-anchor="end" stroke="#3a3a3a" stroke-width="0.2">75</text>
<line x1="117.30" y1="331.90" x2="120.10" y2="331.90" stroke="#222" stroke-width="1.0"/>
<text x="114.50" y="333.90" font-size="6.7" fill="#3a3a3a" text-anchor="end" stroke="#3a3a3a" stroke-width="0.2">100</text>
<line x1="119.60" y1="391.90" x2="159.60" y2="391.90" stroke="#222" stroke-width="1.1"/>
<line x1="128.20" y1="391.90" x2="128.20" y2="394.90" stroke="#222" stroke-width="0.9"/>
<line x1="140.40" y1="391.90" x2="140.40" y2="394.90" stroke="#222" stroke-width="0.9"/>
<line x1="152.60" y1="391.90" x2="152.60" y2="394.90" stroke="#222" stroke-width="0.9"/>
<text x="128.20" y="404.30" font-size="6.6" fill="#3a3a3a" text-anchor="middle" stroke="#3a3a3a" stroke-width="0.2">V</text>
<text x="135.40" y="404.30" font-size="6.6" fill="#eea44e" textLength="9.80" lengthAdjust="spacingAndGlyphs">100</text>
<text x="147.40" y="404.30" font-size="6.6" fill="#eea44e" textLength="14.40" lengthAdjust="spacingAndGlyphs">1000</text>
<text x="140.40" y="311.10" font-size="6.4" fill="#3a3a3a" text-anchor="middle" stroke="#3a3a3a" stroke-width="0.2">P018 (ET)</text>
<text x="129.50" y="322.10" font-size="6.4" fill="#3a3a3a" text-anchor="middle" stroke="#3a3a3a" stroke-width="0.2">87</text>
<text x="140.00" y="322.10" font-size="6.4" fill="#3a3a3a" text-anchor="middle" stroke="#3a3a3a" stroke-width="0.2">89</text>
<text x="152.20" y="322.10" font-size="6.4" fill="#3a3a3a" text-anchor="middle" stroke="#3a3a3a" stroke-width="0.2">86</text>
<text x="115.00" y="322.10" font-size="6.4" fill="#3a3a3a" textLength="8.80" lengthAdjust="spacingAndGlyphs" stroke="#3a3a3a" stroke-width="0.2">n =</text>
<rect x="187.80" y="378.28" width="8.00" height="13.62" fill="#c40022"/>
<rect x="187.80" y="377.50" width="8.00" height="0.78" fill="#5e3a0c"/>
<rect x="187.80" y="331.90" width="8.00" height="45.60" fill="#c8c7cb"/>
<rect x="200.00" y="382.78" width="8.00" height="9.12" fill="#c40022"/>
<rect x="200.00" y="382.78" width="8.00" height="0.00" fill="#5e3a0c"/>
<rect x="200.00" y="331.90" width="8.00" height="50.88" fill="#c8c7cb"/>
<rect x="212.20" y="383.62" width="8.00" height="8.28" fill="#c40022"/>
<rect x="212.20" y="383.62" width="8.00" height="0.00" fill="#5e3a0c"/>
<rect x="212.20" y="331.90" width="8.00" height="51.72" fill="#c8c7cb"/>
<line x1="183.70" y1="329.90" x2="183.70" y2="391.90" stroke="#222" stroke-width="1.1"/>
<line x1="180.90" y1="391.90" x2="183.70" y2="391.90" stroke="#222" stroke-width="1.0"/>
<text x="178.10" y="393.90" font-size="6.7" fill="#3a3a3a" text-anchor="end" stroke="#3a3a3a" stroke-width="0.2">0</text>
<line x1="180.90" y1="376.90" x2="183.70" y2="376.90" stroke="#222" stroke-width="1.0"/>
<text x="178.10" y="378.90" font-size="6.7" fill="#3a3a3a" text-anchor="end" stroke="#3a3a3a" stroke-width="0.2">25</text>
<line x1="180.90" y1="361.90" x2="183.70" y2="361.90" stroke="#222" stroke-width="1.0"/>
<text x="178.10" y="363.90" font-size="6.7" fill="#3a3a3a" text-anchor="end" stroke="#3a3a3a" stroke-width="0.2">50</text>
<line x1="180.90" y1="346.90" x2="183.70" y2="346.90" stroke="#222" stroke-width="1.0"/>
<text x="178.10" y="348.90" font-size="6.7" fill="#3a3a3a" text-anchor="end" stroke="#3a3a3a" stroke-width="0.2">75</text>
<line x1="180.90" y1="331.90" x2="183.70" y2="331.90" stroke="#222" stroke-width="1.0"/>
<text x="178.10" y="333.90" font-size="6.7" fill="#3a3a3a" text-anchor="end" stroke="#3a3a3a" stroke-width="0.2">100</text>
<line x1="183.20" y1="391.90" x2="223.20" y2="391.90" stroke="#222" stroke-width="1.1"/>
<line x1="191.80" y1="391.90" x2="191.80" y2="394.90" stroke="#222" stroke-width="0.9"/>
<line x1="204.00" y1="391.90" x2="204.00" y2="394.90" stroke="#222" stroke-width="0.9"/>
<line x1="216.20" y1="391.90" x2="216.20" y2="394.90" stroke="#222" stroke-width="0.9"/>
<text x="191.80" y="404.30" font-size="6.6" fill="#3a3a3a" text-anchor="middle" stroke="#3a3a3a" stroke-width="0.2">V</text>
<text x="199.00" y="404.30" font-size="6.6" fill="#eea44e" textLength="9.80" lengthAdjust="spacingAndGlyphs">100</text>
<text x="211.00" y="404.30" font-size="6.6" fill="#eea44e" textLength="14.40" lengthAdjust="spacingAndGlyphs">1000</text>
<text x="204.00" y="311.10" font-size="6.4" fill="#3a3a3a" text-anchor="middle" stroke="#3a3a3a" stroke-width="0.2">P379 (ET)</text>
<text x="191.40" y="322.10" font-size="6.4" fill="#3a3a3a" text-anchor="middle" stroke="#3a3a3a" stroke-width="0.2">100</text>
<text x="203.60" y="322.10" font-size="6.4" fill="#3a3a3a" text-anchor="middle" stroke="#3a3a3a" stroke-width="0.2">136</text>
<text x="215.80" y="322.10" font-size="6.4" fill="#3a3a3a" text-anchor="middle" stroke="#3a3a3a" stroke-width="0.2">83</text>
<text x="174.60" y="322.10" font-size="6.4" fill="#3a3a3a" textLength="8.80" lengthAdjust="spacingAndGlyphs" stroke="#3a3a3a" stroke-width="0.2">n =</text>
<rect x="251.60" y="338.80" width="8.00" height="53.10" fill="#c40022"/>
<rect x="251.60" y="338.80" width="8.00" height="0.00" fill="#5e3a0c"/>
<rect x="251.60" y="331.90" width="8.00" height="6.90" fill="#c8c7cb"/>
<rect x="263.80" y="339.40" width="8.00" height="52.50" fill="#c40022"/>
<rect x="263.80" y="339.40" width="8.00" height="0.00" fill="#5e3a0c"/>
<rect x="263.80" y="331.90" width="8.00" height="7.50" fill="#c8c7cb"/>
<rect x="276.00" y="340.72" width="8.00" height="51.18" fill="#c40022"/>
<rect x="276.00" y="340.72" width="8.00" height="0.00" fill="#5e3a0c"/>
<rect x="276.00" y="331.90" width="8.00" height="8.82" fill="#c8c7cb"/>
<line x1="247.50" y1="329.90" x2="247.50" y2="391.90" stroke="#222" stroke-width="1.1"/>
<line x1="244.70" y1="391.90" x2="247.50" y2="391.90" stroke="#222" stroke-width="1.0"/>
<text x="241.90" y="393.90" font-size="6.7" fill="#3a3a3a" text-anchor="end" stroke="#3a3a3a" stroke-width="0.2">0</text>
<line x1="244.70" y1="376.90" x2="247.50" y2="376.90" stroke="#222" stroke-width="1.0"/>
<text x="241.90" y="378.90" font-size="6.7" fill="#3a3a3a" text-anchor="end" stroke="#3a3a3a" stroke-width="0.2">25</text>
<line x1="244.70" y1="361.90" x2="247.50" y2="361.90" stroke="#222" stroke-width="1.0"/>
<text x="241.90" y="363.90" font-size="6.7" fill="#3a3a3a" text-anchor="end" stroke="#3a3a3a" stroke-width="0.2">50</text>
<line x1="244.70" y1="346.90" x2="247.50" y2="346.90" stroke="#222" stroke-width="1.0"/>
<text x="241.90" y="348.90" font-size="6.7" fill="#3a3a3a" text-anchor="end" stroke="#3a3a3a" stroke-width="0.2">75</text>
<line x1="244.70" y1="331.90" x2="247.50" y2="331.90" stroke="#222" stroke-width="1.0"/>
<text x="241.90" y="333.90" font-size="6.7" fill="#3a3a3a" text-anchor="end" stroke="#3a3a3a" stroke-width="0.2">100</text>
<line x1="247.00" y1="391.90" x2="287.00" y2="391.90" stroke="#222" stroke-width="1.1"/>
<line x1="255.60" y1="391.90" x2="255.60" y2="394.90" stroke="#222" stroke-width="0.9"/>
<line x1="267.80" y1="391.90" x2="267.80" y2="394.90" stroke="#222" stroke-width="0.9"/>
<line x1="280.00" y1="391.90" x2="280.00" y2="394.90" stroke="#222" stroke-width="0.9"/>
<text x="255.60" y="404.30" font-size="6.6" fill="#3a3a3a" text-anchor="middle" stroke="#3a3a3a" stroke-width="0.2">V</text>
<text x="262.80" y="404.30" font-size="6.6" fill="#eea44e" textLength="9.80" lengthAdjust="spacingAndGlyphs">100</text>
<text x="274.80" y="404.30" font-size="6.6" fill="#eea44e" textLength="14.40" lengthAdjust="spacingAndGlyphs">1000</text>
<text x="267.80" y="311.10" font-size="6.4" fill="#3a3a3a" text-anchor="middle" stroke="#3a3a3a" stroke-width="0.2">P345 (PV)</text>
<text x="255.20" y="322.10" font-size="6.4" fill="#3a3a3a" text-anchor="middle" stroke="#3a3a3a" stroke-width="0.2">106</text>
<text x="267.40" y="322.10" font-size="6.4" fill="#3a3a3a" text-anchor="middle" stroke="#3a3a3a" stroke-width="0.2">92</text>
<text x="279.60" y="322.10" font-size="6.4" fill="#3a3a3a" text-anchor="middle" stroke="#3a3a3a" stroke-width="0.2">83</text>
<text x="237.00" y="322.10" font-size="6.4" fill="#3a3a3a" textLength="8.80" lengthAdjust="spacingAndGlyphs" stroke="#3a3a3a" stroke-width="0.2">n =</text>
<rect x="315.50" y="363.88" width="8.00" height="28.02" fill="#c40022"/>
<rect x="315.50" y="361.72" width="8.00" height="2.16" fill="#5e3a0c"/>
<rect x="315.50" y="331.90" width="8.00" height="29.82" fill="#c8c7cb"/>
<rect x="327.70" y="367.00" width="8.00" height="24.90" fill="#c40022"/>
<rect x="327.70" y="363.88" width="8.00" height="3.12" fill="#5e3a0c"/>
<rect x="327.70" y="331.90" width="8.00" height="31.98" fill="#c8c7cb"/>
<rect x="339.90" y="369.58" width="8.00" height="22.32" fill="#c40022"/>
<rect x="339.90" y="367.54" width="8.00" height="2.04" fill="#5e3a0c"/>
<rect x="339.90" y="331.90" width="8.00" height="35.64" fill="#c8c7cb"/>
<line x1="311.40" y1="329.90" x2="311.40" y2="391.90" stroke="#222" stroke-width="1.1"/>
<line x1="308.60" y1="391.90" x2="311.40" y2="391.90" stroke="#222" stroke-width="1.0"/>
<text x="305.80" y="393.90" font-size="6.7" fill="#3a3a3a" text-anchor="end" stroke="#3a3a3a" stroke-width="0.2">0</text>
<line x1="308.60" y1="376.90" x2="311.40" y2="376.90" stroke="#222" stroke-width="1.0"/>
<text x="305.80" y="378.90" font-size="6.7" fill="#3a3a3a" text-anchor="end" stroke="#3a3a3a" stroke-width="0.2">25</text>
<line x1="308.60" y1="361.90" x2="311.40" y2="361.90" stroke="#222" stroke-width="1.0"/>
<text x="305.80" y="363.90" font-size="6.7" fill="#3a3a3a" text-anchor="end" stroke="#3a3a3a" stroke-width="0.2">50</text>
<line x1="308.60" y1="346.90" x2="311.40" y2="346.90" stroke="#222" stroke-width="1.0"/>
<text x="305.80" y="348.90" font-size="6.7" fill="#3a3a3a" text-anchor="end" stroke="#3a3a3a" stroke-width="0.2">75</text>
<line x1="308.60" y1="331.90" x2="311.40" y2="331.90" stroke="#222" stroke-width="1.0"/>
<text x="305.80" y="333.90" font-size="6.7" fill="#3a3a3a" text-anchor="end" stroke="#3a3a3a" stroke-width="0.2">100</text>
<line x1="310.90" y1="391.90" x2="350.90" y2="391.90" stroke="#222" stroke-width="1.1"/>
<line x1="319.50" y1="391.90" x2="319.50" y2="394.90" stroke="#222" stroke-width="0.9"/>
<line x1="331.70" y1="391.90" x2="331.70" y2="394.90" stroke="#222" stroke-width="0.9"/>
<line x1="343.90" y1="391.90" x2="343.90" y2="394.90" stroke="#222" stroke-width="0.9"/>
<text x="319.50" y="404.30" font-size="6.6" fill="#3a3a3a" text-anchor="middle" stroke="#3a3a3a" stroke-width="0.2">V</text>
<text x="326.70" y="404.30" font-size="6.6" fill="#eea44e" textLength="9.80" lengthAdjust="spacingAndGlyphs">100</text>
<text x="338.70" y="404.30" font-size="6.6" fill="#eea44e" textLength="14.40" lengthAdjust="spacingAndGlyphs">1000</text>
<text x="331.70" y="311.10" font-size="6.4" fill="#3a3a3a" text-anchor="middle" stroke="#3a3a3a" stroke-width="0.2">P355 (PV)</text>
<text x="319.10" y="322.10" font-size="6.4" fill="#3a3a3a" text-anchor="middle" stroke="#3a3a3a" stroke-width="0.2">120</text>
<text x="331.30" y="322.10" font-size="6.4" fill="#3a3a3a" text-anchor="middle" stroke="#3a3a3a" stroke-width="0.2">114</text>
<text x="343.50" y="322.10" font-size="6.4" fill="#3a3a3a" text-anchor="middle" stroke="#3a3a3a" stroke-width="0.2">104</text>
<text x="301.80" y="322.10" font-size="6.4" fill="#3a3a3a" textLength="8.80" lengthAdjust="spacingAndGlyphs" stroke="#3a3a3a" stroke-width="0.2">n =</text>
<text x="354.50" y="392.50" font-size="6.6" fill="#f1b468" textLength="14.50" lengthAdjust="spacingAndGlyphs">IFN&#945;</text>
<text x="359.00" y="400.10" font-size="6.6" fill="#f1b468" textLength="6.00" lengthAdjust="spacingAndGlyphs">IU</text>
<text x="381.00" y="152.00" font-size="11.8" fill="#111" font-weight="bold">D</text>
<text x="396.50" y="163.60" font-size="10.3" fill="#3a3a3a" textLength="99.00" lengthAdjust="spacingAndGlyphs" stroke="#3a3a3a" stroke-width="0.3">Relative change (%) in</text>
<text x="395.9" y="175.6" font-size="10.3" fill="#3a3a3a" stroke="#3a3a3a" stroke-width="0.3" textLength="100.4" lengthAdjust="spacingAndGlyphs"><tspan font-style="italic">JAK2-V617F</tspan><tspan font-size="6.8" dy="-3.8">+</tspan><tspan dy="3.8"> colonies</tspan></text>
<line x1="409.80" y1="182.70" x2="409.80" y2="279.90" stroke="#222" stroke-width="1.1"/>
<line x1="406.80" y1="186.20" x2="409.80" y2="186.20" stroke="#222" stroke-width="1.0"/>
<line x1="407.80" y1="197.70" x2="409.80" y2="197.70" stroke="#222" stroke-width="1.0"/>
<line x1="406.80" y1="209.20" x2="409.80" y2="209.20" stroke="#222" stroke-width="1.0"/>
<line x1="407.80" y1="220.70" x2="409.80" y2="220.70" stroke="#222" stroke-width="1.0"/>
<line x1="406.80" y1="232.20" x2="409.80" y2="232.20" stroke="#222" stroke-width="1.0"/>
<line x1="407.80" y1="243.70" x2="409.80" y2="243.70" stroke="#222" stroke-width="1.0"/>
<line x1="406.80" y1="255.20" x2="409.80" y2="255.20" stroke="#222" stroke-width="1.0"/>
<line x1="407.80" y1="266.70" x2="409.80" y2="266.70" stroke="#222" stroke-width="1.0"/>
<line x1="406.80" y1="278.20" x2="409.80" y2="278.20" stroke="#222" stroke-width="1.0"/>
<text x="402.80" y="188.40" font-size="6.4" fill="#3a3a3a" text-anchor="end" stroke="#3a3a3a" stroke-width="0.2">+100</text>
<text x="402.80" y="211.40" font-size="6.4" fill="#3a3a3a" text-anchor="end" stroke="#3a3a3a" stroke-width="0.2">+50</text>
<text x="402.80" y="234.40" font-size="6.4" fill="#3a3a3a" text-anchor="end" stroke="#3a3a3a" stroke-width="0.2">% 0</text>
<text x="402.80" y="257.40" font-size="6.4" fill="#3a3a3a" text-anchor="end" stroke="#3a3a3a" stroke-width="0.2">&#8722;50</text>
<text x="402.80" y="280.40" font-size="6.4" fill="#3a3a3a" text-anchor="end" stroke="#3a3a3a" stroke-width="0.2">&#8722;100</text>
<line x1="408.80" y1="281.40" x2="475.00" y2="281.40" stroke="#222" stroke-width="1.1"/>
<line x1="424.20" y1="281.40" x2="424.20" y2="284.90" stroke="#222" stroke-width="1.0"/>
<line x1="446.00" y1="281.40" x2="446.00" y2="284.90" stroke="#222" stroke-width="1.0"/>
<line x1="467.60" y1="281.40" x2="467.60" y2="284.90" stroke="#222" stroke-width="1.0"/>
<text x="424.20" y="292.90" font-size="6.6" fill="#3a3a3a" text-anchor="middle" stroke="#3a3a3a" stroke-width="0.2">V</text>
<text x="441.00" y="292.90" font-size="6.6" fill="#eea44e" textLength="11.00" lengthAdjust="spacingAndGlyphs">100</text>
<text x="461.20" y="292.90" font-size="6.6" fill="#eea44e" textLength="14.00" lengthAdjust="spacingAndGlyphs">1000</text>
<text x="479.00" y="282.60" font-size="6.6" fill="#f1b468" textLength="15.60" lengthAdjust="spacingAndGlyphs">IFN&#945;</text>
<text x="483.80" y="291.00" font-size="6.6" fill="#f1b468" textLength="6.20" lengthAdjust="spacingAndGlyphs">IU</text>
<circle cx="418.60" cy="232.20" r="1.45" fill="#34507e"/>
<circle cx="421.50" cy="232.20" r="1.45" fill="#34507e"/>
<circle cx="424.40" cy="232.20" r="1.45" fill="#34507e"/>
<circle cx="427.30" cy="232.20" r="1.45" fill="#34507e"/>
<circle cx="430.20" cy="232.20" r="1.45" fill="#34507e"/>
<line x1="445.60" y1="224.29" x2="445.60" y2="226.31" stroke="#34507e" stroke-width="1.0"/>
<line x1="445.60" y1="241.58" x2="445.60" y2="243.10" stroke="#34507e" stroke-width="1.0"/>
<line x1="442.80" y1="224.29" x2="448.40" y2="224.29" stroke="#34507e" stroke-width="1.3"/>
<line x1="442.80" y1="243.10" x2="448.40" y2="243.10" stroke="#34507e" stroke-width="1.3"/>
<rect x="438.50" y="226.31" width="14.2" height="15.27" fill="#f4f8fc" stroke="#34507e" stroke-width="1.0"/>
<line x1="438.50" y1="234.41" x2="452.70" y2="234.41" stroke="#34507e" stroke-width="1.0"/>
<line x1="467.60" y1="204.92" x2="467.60" y2="207.50" stroke="#34507e" stroke-width="1.0"/>
<line x1="467.60" y1="247.70" x2="467.60" y2="256.90" stroke="#34507e" stroke-width="1.0"/>
<line x1="464.80" y1="204.92" x2="470.40" y2="204.92" stroke="#34507e" stroke-width="1.3"/>
<line x1="464.80" y1="256.90" x2="470.40" y2="256.90" stroke="#34507e" stroke-width="1.3"/>
<rect x="460.50" y="207.50" width="14.2" height="40.20" fill="#f4f8fc" stroke="#34507e" stroke-width="1.0"/>
<line x1="460.50" y1="216.28" x2="474.70" y2="216.28" stroke="#34507e" stroke-width="1.0"/>
<line x1="431.00" y1="232.20" x2="445.60" y2="224.29" stroke="#a0a8bc" stroke-width="0.6" stroke-dasharray="1.6 1.2"/>
<line x1="445.60" y1="224.29" x2="467.60" y2="212.51" stroke="#a0a8bc" stroke-width="0.6" stroke-dasharray="1.6 1.2"/>
<line x1="431.00" y1="232.20" x2="445.60" y2="229.30" stroke="#a0a8bc" stroke-width="0.6" stroke-dasharray="1.6 1.2"/>
<line x1="445.60" y1="229.30" x2="467.60" y2="220.19" stroke="#a0a8bc" stroke-width="0.6" stroke-dasharray="1.6 1.2"/>
<line x1="431.00" y1="232.20" x2="445.60" y2="239.01" stroke="#a0a8bc" stroke-width="0.6" stroke-dasharray="1.6 1.2"/>
<line x1="445.60" y1="239.01" x2="467.60" y2="204.92" stroke="#a0a8bc" stroke-width="0.6" stroke-dasharray="1.6 1.2"/>
<line x1="431.00" y1="232.20" x2="445.60" y2="243.10" stroke="#a0a8bc" stroke-width="0.6" stroke-dasharray="1.6 1.2"/>
<line x1="445.60" y1="243.10" x2="467.60" y2="256.90" stroke="#a0a8bc" stroke-width="0.6" stroke-dasharray="1.6 1.2"/>
<ellipse cx="445.6" cy="224.29" rx="1.7" ry="1.4" fill="#34507e"/>
<circle cx="445.6" cy="229.30" r="1.5" fill="#8d8fae" stroke="#34507e" stroke-width="0.5"/>
<circle cx="445.6" cy="239.01" r="1.5" fill="#8d8fae" stroke="#34507e" stroke-width="0.5"/>
<ellipse cx="445.6" cy="243.10" rx="1.7" ry="1.4" fill="#34507e"/>
<circle cx="467.6" cy="212.51" r="1.5" fill="#8d8fae" stroke="#34507e" stroke-width="0.5"/>
<circle cx="467.6" cy="220.19" r="1.5" fill="#8d8fae" stroke="#34507e" stroke-width="0.5"/>
<ellipse cx="467.6" cy="204.92" rx="1.7" ry="1.4" fill="#34507e"/>
<ellipse cx="467.6" cy="256.90" rx="1.7" ry="1.4" fill="#34507e"/>
<line x1="409.80" y1="298.10" x2="409.80" y2="395.90" stroke="#222" stroke-width="1.1"/>
<line x1="406.80" y1="301.60" x2="409.80" y2="301.60" stroke="#222" stroke-width="1.0"/>
<line x1="407.80" y1="313.15" x2="409.80" y2="313.15" stroke="#222" stroke-width="1.0"/>
<line x1="406.80" y1="324.70" x2="409.80" y2="324.70" stroke="#222" stroke-width="1.0"/>
<line x1="407.80" y1="336.25" x2="409.80" y2="336.25" stroke="#222" stroke-width="1.0"/>
<line x1="406.80" y1="347.80" x2="409.80" y2="347.80" stroke="#222" stroke-width="1.0"/>
<line x1="407.80" y1="359.35" x2="409.80" y2="359.35" stroke="#222" stroke-width="1.0"/>
<line x1="406.80" y1="370.90" x2="409.80" y2="370.90" stroke="#222" stroke-width="1.0"/>
<line x1="407.80" y1="382.45" x2="409.80" y2="382.45" stroke="#222" stroke-width="1.0"/>
<line x1="406.80" y1="394.00" x2="409.80" y2="394.00" stroke="#222" stroke-width="1.0"/>
<text x="402.80" y="303.80" font-size="6.4" fill="#3a3a3a" text-anchor="end" stroke="#3a3a3a" stroke-width="0.2">+100</text>
<text x="402.80" y="326.90" font-size="6.4" fill="#3a3a3a" text-anchor="end" stroke="#3a3a3a" stroke-width="0.2">+50</text>
<text x="402.80" y="350.00" font-size="6.4" fill="#3a3a3a" text-anchor="end" stroke="#3a3a3a" stroke-width="0.2">% 0</text>
<text x="402.80" y="373.10" font-size="6.4" fill="#3a3a3a" text-anchor="end" stroke="#3a3a3a" stroke-width="0.2">&#8722;50</text>
<text x="402.80" y="396.20" font-size="6.4" fill="#3a3a3a" text-anchor="end" stroke="#3a3a3a" stroke-width="0.2">&#8722;100</text>
<line x1="408.80" y1="397.40" x2="475.00" y2="397.40" stroke="#222" stroke-width="1.1"/>
<line x1="424.20" y1="397.40" x2="424.20" y2="400.90" stroke="#222" stroke-width="1.0"/>
<line x1="446.00" y1="397.40" x2="446.00" y2="400.90" stroke="#222" stroke-width="1.0"/>
<line x1="467.60" y1="397.40" x2="467.60" y2="400.90" stroke="#222" stroke-width="1.0"/>
<text x="424.20" y="408.90" font-size="6.6" fill="#3a3a3a" text-anchor="middle" stroke="#3a3a3a" stroke-width="0.2">V</text>
<text x="441.00" y="408.90" font-size="6.6" fill="#eea44e" textLength="11.00" lengthAdjust="spacingAndGlyphs">100</text>
<text x="461.20" y="408.90" font-size="6.6" fill="#eea44e" textLength="14.00" lengthAdjust="spacingAndGlyphs">1000</text>
<text x="479.00" y="398.60" font-size="6.6" fill="#f1b468" textLength="15.60" lengthAdjust="spacingAndGlyphs">IFN&#945;</text>
<text x="483.80" y="407.00" font-size="6.6" fill="#f1b468" textLength="6.20" lengthAdjust="spacingAndGlyphs">IU</text>
<circle cx="418.60" cy="347.80" r="1.45" fill="#c02a4c"/>
<circle cx="421.50" cy="347.80" r="1.45" fill="#c02a4c"/>
<circle cx="424.40" cy="347.80" r="1.45" fill="#c02a4c"/>
<circle cx="427.30" cy="347.80" r="1.45" fill="#c02a4c"/>
<circle cx="430.20" cy="347.80" r="1.45" fill="#c02a4c"/>
<line x1="445.60" y1="347.98" x2="445.60" y2="349.19" stroke="#c02a4c" stroke-width="1.0"/>
<line x1="445.60" y1="381.53" x2="445.60" y2="388.27" stroke="#c02a4c" stroke-width="1.0"/>
<line x1="442.80" y1="347.98" x2="448.40" y2="347.98" stroke="#c02a4c" stroke-width="1.3"/>
<line x1="442.80" y1="388.27" x2="448.40" y2="388.27" stroke="#c02a4c" stroke-width="1.3"/>
<rect x="438.50" y="349.19" width="14.2" height="32.34" fill="#fdf7f8" stroke="#c02a4c" stroke-width="1.0"/>
<line x1="438.50" y1="356.81" x2="452.70" y2="356.81" stroke="#c02a4c" stroke-width="1.0"/>
<line x1="467.60" y1="349.19" x2="467.60" y2="352.00" stroke="#c02a4c" stroke-width="1.0"/>
<line x1="467.60" y1="386.10" x2="467.60" y2="393.72" stroke="#c02a4c" stroke-width="1.0"/>
<line x1="464.80" y1="349.19" x2="470.40" y2="349.19" stroke="#c02a4c" stroke-width="1.3"/>
<line x1="464.80" y1="393.72" x2="470.40" y2="393.72" stroke="#c02a4c" stroke-width="1.3"/>
<rect x="460.50" y="352.00" width="14.2" height="34.10" fill="#fdf7f8" stroke="#c02a4c" stroke-width="1.0"/>
<line x1="460.50" y1="361.01" x2="474.70" y2="361.01" stroke="#c02a4c" stroke-width="1.0"/>
<line x1="431.00" y1="347.80" x2="445.60" y2="347.98" stroke="#dca4ae" stroke-width="0.6" stroke-dasharray="1.6 1.2"/>
<line x1="445.60" y1="347.98" x2="467.60" y2="349.19" stroke="#dca4ae" stroke-width="0.6" stroke-dasharray="1.6 1.2"/>
<line x1="431.00" y1="347.80" x2="445.60" y2="350.39" stroke="#dca4ae" stroke-width="0.6" stroke-dasharray="1.6 1.2"/>
<line x1="445.60" y1="350.39" x2="467.60" y2="356.81" stroke="#dca4ae" stroke-width="0.6" stroke-dasharray="1.6 1.2"/>
<line x1="431.00" y1="347.80" x2="445.60" y2="362.58" stroke="#dca4ae" stroke-width="0.6" stroke-dasharray="1.6 1.2"/>
<line x1="445.60" y1="362.58" x2="467.60" y2="365.17" stroke="#dca4ae" stroke-width="0.6" stroke-dasharray="1.6 1.2"/>
<line x1="431.00" y1="347.80" x2="445.60" y2="388.27" stroke="#dca4ae" stroke-width="0.6" stroke-dasharray="1.6 1.2"/>
<line x1="445.60" y1="388.27" x2="467.60" y2="393.72" stroke="#dca4ae" stroke-width="0.6" stroke-dasharray="1.6 1.2"/>
<ellipse cx="445.6" cy="347.98" rx="1.7" ry="1.4" fill="#c02a4c"/>
<circle cx="445.6" cy="350.39" r="1.5" fill="#d77a8c" stroke="#c02a4c" stroke-width="0.5"/>
<circle cx="445.6" cy="362.58" r="1.5" fill="#d77a8c" stroke="#c02a4c" stroke-width="0.5"/>
<ellipse cx="445.6" cy="388.27" rx="1.7" ry="1.4" fill="#c02a4c"/>
<ellipse cx="467.6" cy="349.19" rx="1.7" ry="1.4" fill="#c02a4c"/>
<circle cx="467.6" cy="356.81" r="1.5" fill="#d77a8c" stroke="#c02a4c" stroke-width="0.5"/>
<circle cx="467.6" cy="365.17" r="1.5" fill="#d77a8c" stroke="#c02a4c" stroke-width="0.5"/>
<ellipse cx="467.6" cy="393.72" rx="1.7" ry="1.4" fill="#c02a4c"/>
<rect x="0" y="0" width="520" height="1.3" fill="#555"/>
<rect x="0" y="0" width="1.3" height="418" fill="#555"/>
<rect x="518.6" y="0" width="1.4" height="418" fill="#555"/>
<rect x="0" y="416.6" width="520" height="1.4" fill="#555"/>
</svg>
</body></html>
